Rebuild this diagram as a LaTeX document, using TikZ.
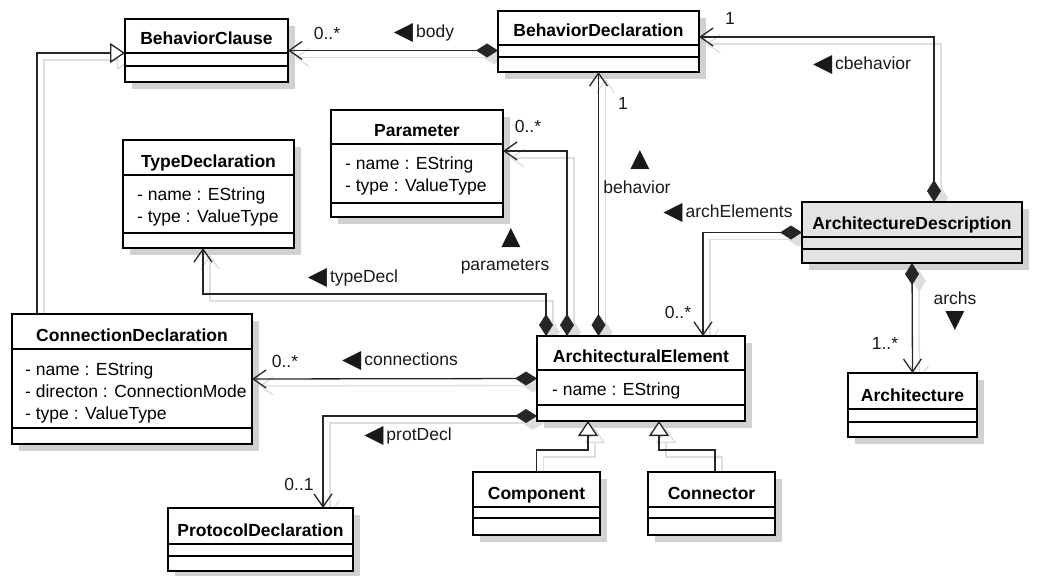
\documentclass[tikz,border=0pt]{standalone}
\usepackage{fontspec}
\setmainfont{Liberation Sans}
\newfontfamily\symf{DejaVu Sans}
\usetikzlibrary{arrows.meta,calc}
\pgfdeclarelayer{bg}
\pgfsetlayers{bg,main}
\newcommand\ltri{{\symf\fontsize{25}{20}\selectfont\raisebox{-1.5pt}{◀}}}
\newcommand\utri{{\symf\fontsize{25}{20}\selectfont ▲}}
\newcommand\dtri{{\symf\fontsize{25}{20}\selectfont ▼}}
\newcommand\umlclass[9]{% name,x1,y1,x2,y2,s1,s2,fill,title
  \pgfmathsetmacro\bw{#4-#2}\pgfmathsetmacro\bh{#5-#3}%
  \node[clsbox, fill=#8, minimum width=\bw pt, minimum height=\bh pt] (#1) at (#2,#3) {};
  \begin{pgfonlayer}{bg}
    \fill[boxshadow] ([shift={(7,7)}]#1.north west) rectangle ([shift={(7,7)}]#1.south east);
  \end{pgfonlayer}
  \draw[sepline] (#2,#6) -- (#4,#6) (#2,#7) -- (#4,#7);
  \node[ttl] (#1-title) at ({(#2+#4)/2},{#6-8}) {#9};
}
\newcommand\umlattr[4]{\node[attr] (#1) at (#2,#3) {#4};}
\newcommand\conn[2]{%
  \begin{pgfonlayer}{bg}
    \draw[#1, shadowline, transform canvas={shift={(7pt,-7pt)}}] #2;
  \end{pgfonlayer}
  \draw[#1] #2;
}
\begin{document}
\begin{tikzpicture}[x=1pt,y=-1pt,
  font=\fontsize{17.5}{20}\selectfont,
  clsbox/.style={draw=black, line width=2pt, anchor=north west, inner sep=0pt, outer sep=0pt},
  boxshadow/.style={fill=black!18},
  sepline/.style={draw=black, line width=1.5pt},
  ttl/.style={font=\fontsize{17.5}{20}\selectfont\bfseries, anchor=base, inner sep=0pt},
  attr/.style={anchor=base west, inner sep=0pt},
  lbl/.style={inner sep=1pt, text=black!90},
  cline/.style={line width=1.3pt, draw=black!85},
  shadowline/.style={draw=black!13},
  comp/.style={cline, arrows={Diamond[length=22pt,width=14pt]-Straight Barb[length=13pt,width=18pt]}},
  gen/.style={cline, arrows={-Triangle[open,length=15pt,width=20pt,fill=white]}}]
\useasboundingbox (0,0) rectangle (1051,575);

% classes
\umlclass{bc}{125}{19}{288}{82}{53}{66}{white}{BehaviorClause}
\umlclass{bd}{498}{11}{699}{72}{45}{57}{white}{BehaviorDeclaration}
\umlclass{param}{331}{110}{503}{217}{144}{203}{white}{Parameter}
\umlattr{param-a1}{345}{169}{- name : EString}
\umlattr{param-a2}{345}{191}{- type : ValueType}
\umlclass{td}{123}{140}{294}{248}{175}{233}{white}{TypeDeclaration}
\umlattr{td-a1}{137}{200}{- name : EString}
\umlattr{td-a2}{137}{222}{- type : ValueType}
\umlclass{ad}{802}{202}{1022}{263}{237}{249}{black!11}{ArchitectureDescription}
\umlclass{arch}{848}{373}{977}{437}{409}{422}{white}{Architecture}
\umlclass{cd}{12}{314}{252}{444}{349}{428}{white}{ConnectionDeclaration}
\umlattr{cd-a1}{25}{375}{- name : EString}
\umlattr{cd-a2}{25}{397}{- directon : ConnectionMode}
\umlattr{cd-a3}{25}{419}{- type : ValueType}
\umlclass{ae}{537}{336}{745}{421}{370}{405}{white}{ArchitecturalElement}
\umlattr{ae-a1}{552}{395}{- name : EString}
\umlclass{pd}{168}{508}{353}{571}{544}{556}{white}{ProtocolDeclaration}
\umlclass{comp}{473}{472}{600}{535}{507}{518}{white}{Component}
\umlclass{connr}{648}{472}{775}{535}{507}{518}{white}{Connector}

% connectors
\conn{comp}{(bc.east -| bd.west) -- (bc.east)}
\conn{comp}{([xshift=132pt]ad.north west) |- ([yshift=4.5pt]bd.east)}
\conn{comp}{(bd.south |- ae.north) -- (bd.south)}
\conn{comp}{([xshift=30pt]ae.north west) |- ([yshift=12.5pt]param.east)}
\conn{comp}{([xshift=9pt]ae.north west) -- ++(0,-42) -| ([xshift=80pt]td.south west)}
\conn{comp}{(ad.west) -| ([xshift=166pt]ae.north west)}
\conn{comp}{(ad.south) -- (arch.north)}
\conn{comp}{(ae.west) -- (cd.east)}
\conn{comp}{([yshift=5pt]ae.south west) -| ([xshift=155pt]pd.north west)}
\conn{gen}{([xshift=25pt]cd.north west) |- ([yshift=-2.5pt]bc.west)}
\conn{gen}{(comp.north) -- ++(0,-22) -| ([xshift=51pt]ae.south west)}
\conn{gen}{([xshift=67pt]connr.north west) -- ++(0,-22) -| ([xshift=122pt]ae.south west)}

% labels
\node[lbl] (m-body) at (327,33) {0..*};
\node[lbl] (l-body) at (424,33) {\ltri\,body};
\node[lbl] (m-cbeh) at (730,18) {1};
\node[lbl] (l-cbeh) at (862,65) {\ltri\,cbehavior};
\node[lbl] (m-param) at (528,126) {0..*};
\node[lbl] (m-beh) at (623,103) {1};
\node[lbl] (t-beh) at (640,160) {\utri};
\node[lbl] (l-beh) at (637,187) {behavior};
\node[lbl] (t-param) at (511,238) {\utri};
\node[lbl] (l-param) at (505,267) {parameters};
\node[lbl] (l-type) at (353,278) {\ltri\,typeDecl};
\node[lbl] (l-arch) at (728,213) {\ltri\,archElements};
\node[lbl] (m-arch) at (678,312) {0..*};
\node[lbl, inner sep=0pt] (l-archs) at (955,298) {archs};
\node[lbl, inner sep=0pt] (t-archs) at (955,321) {\dtri};
\node[lbl] (m-archs) at (885,343) {1..*};
\node[lbl] (m-conn) at (285,361) {0..*};
\node[lbl] (l-conn) at (400,361) {\ltri\,connections};
\node[lbl] (l-prot) at (408,436) {\ltri\,protDecl};
\node[lbl] (m-prot) at (299,484) {0..1};
\end{tikzpicture}
\end{document}
